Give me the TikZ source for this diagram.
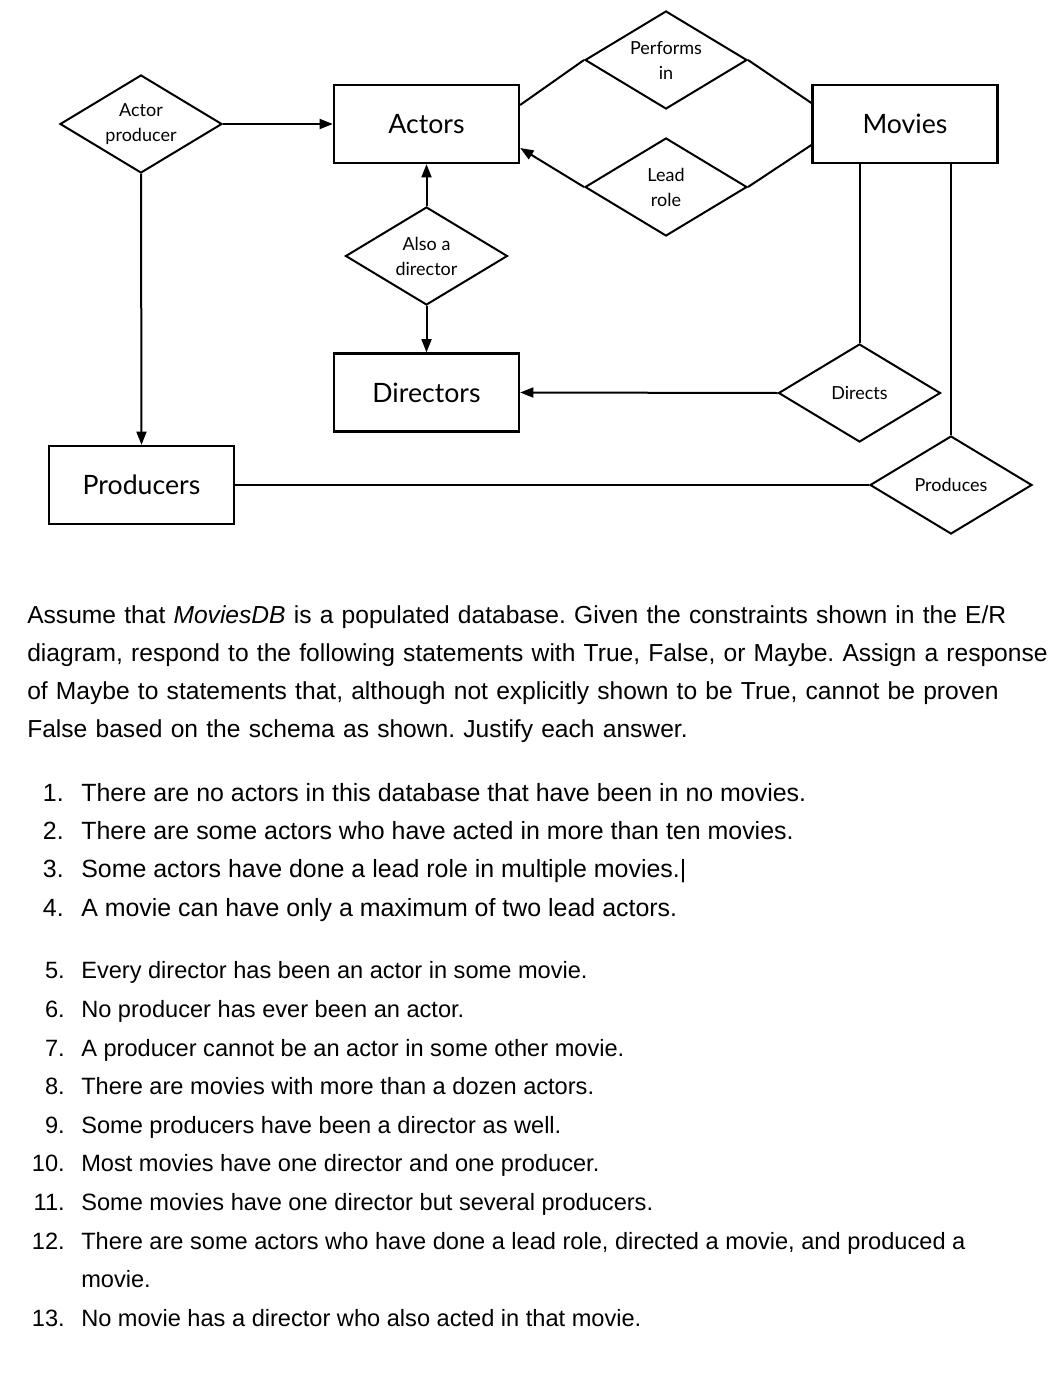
\documentclass[tikz,border=0pt]{standalone}
\usepackage{fontspec}
\setmainfont{Liberation Sans}
\newfontfamily\erfont{Lato}
\usepackage{tikz}
\usetikzlibrary{shapes.geometric,arrows.meta,calc}
\frenchspacing

\tikzset{
    entity/.style={draw, line width=1.7pt, minimum width=138.75pt, minimum height=58.5pt,
        inner sep=0pt, font=\erfont\fontsize{20}{24}\selectfont},
    relation/.style={diamond, draw, line width=1.5pt, aspect=1.65, inner sep=0pt,
        minimum width=121.5pt, minimum height=73.5pt, align=center,
        font=\erfont\fontsize{13.5}{18.75}\selectfont},
    arr/.style={line width=1.5pt, -{Triangle[length=10pt,width=7.5pt]}},
    link/.style={line width=1.5pt},
    body/.style={font=\fontsize{18.45}{28.5}\selectfont, inner sep=0pt},
    bigitem/.style={font=\fontsize{18.7}{28.5}\selectfont, inner sep=0pt},
    smallitem/.style={font=\fontsize{17.7}{28.5}\selectfont, inner sep=0pt}
}

\begin{document}
\begin{tikzpicture}[x=0.75pt, y=-0.75pt]
    \useasboundingbox (0,0) rectangle (1057,1380);

    % Entities
    \node[entity] (actors) at (426.5,124) {Actors};
    \node[entity] (movies) at (905,124) {Movies};
    \node[entity] (directors) at (426.5,392.5) {Directors};
    \node[entity] (producers) at (141.5,485) {Producers};

    % Relationships
    \node[relation] (actprod) at (141,124) {Actor\\producer};
    \node[relation] (performs) at (666,60) {Performs\\in};
    \node[relation] (lead) at (666,187) {Lead\\role};
    \node[relation] (alsodir) at (426.5,256) {Also a\\director};
    \node[relation] (directs) at (859.5,393) {Directs};
    \node[relation] (produces) at (951,485) {Produces};

    % Connectors
    \draw[arr] (actprod.east) -- (actors.west);
    \draw[arr] (actprod.south) -- (producers.north);
    \draw[arr] (alsodir.north) -- (actors.south);
    \draw[arr] (alsodir.south) -- (directors.north);
    \draw[arr] (directs.west) -- (directors.east);
    \draw[link] (directs.north |- movies.south) -- (directs.north);
    \draw[link] (produces.north |- movies.south) -- (produces.north);
    \draw[link] (produces.west) -- (producers.east);
    \draw[link] ([yshift=14.25pt]actors.east) -- (performs.west);
    \draw[link] (performs.east) -- ([yshift=15.75pt]movies.west);
    \draw[arr] (lead.west) -- ([yshift=-18pt]actors.east);
    \draw[link] (lead.east) -- ([yshift=-15.75pt]movies.west);

    % Question text
    \node[body, anchor=base west, text width=790pt, align=left] (intro) at (27,623)
        {Assume that \textit{MoviesDB} is a populated database. Given the constraints shown in the E/R\\
         diagram, respond to the following statements with True, False, or Maybe. Assign a response\\
         of Maybe to statements that, although not explicitly shown to be True, cannot be proven\\
         False based on the schema as shown. Justify each answer.};

    % Statements
    \foreach \n/\y/\txt in {
        1/801/{There are no actors in this database that have been in no movies.},
        2/839/{There are some actors who have acted in more than ten movies.},
        3/877/{Some actors have done a lead role in multiple movies.|},
        4/916/{A movie can have only a maximum of two lead actors.}} {
        \node[bigitem, anchor=base east] (num\n) at (64,\y) {\n.};
        \node[bigitem, anchor=base west] (item\n) at (81,\y) {\txt};
    }
    \foreach \n/\y/\txt in {
        5/978/{Every director has been an actor in some movie.},
        6/1017/{No producer has ever been an actor.},
        7/1056/{A producer cannot be an actor in some other movie.},
        8/1094/{There are movies with more than a dozen actors.},
        9/1133/{Some producers have been a director as well.},
        10/1171/{Most movies have one director and one producer.},
        11/1210/{Some movies have one director but several producers.},
        12/1249/{There are some actors who have done a lead role, directed a movie, and produced a},
        13/1326/{No movie has a director who also acted in that movie.}} {
        \node[smallitem, anchor=base east] (num\n) at (65,\y) {\n.};
        \node[smallitem, anchor=base west] (item\n) at (81,\y) {\txt};
    }
    \node[smallitem, anchor=base west] (item12b) at (81,1287) {movie.};

\end{tikzpicture}
\end{document}
